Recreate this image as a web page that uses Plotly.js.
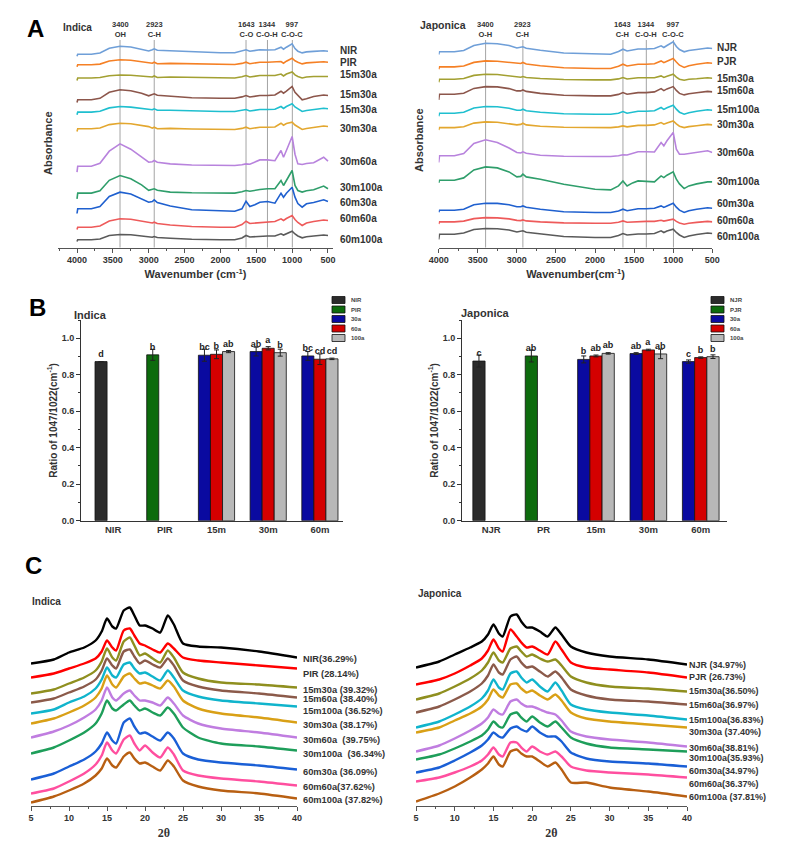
<!DOCTYPE html>
<html><head><meta charset="utf-8">
<script src="https://cdn.plot.ly/plotly-3.0.1.min.js"></script>
<style>html,body{margin:0;padding:0;background:#fff}</style>
</head><body><div id="chart" style="width:787px;height:849px"></div>
<script>
// ===================== DATA =====================
// ---- Panel A: FTIR spectra (relative absorbance profiles, arbitrary units) ----
const ftX = [4000,3990,3800,3680,3550,3400,3250,3100,3000,2950,2923,2880,2700,2400,2000,1800,1700,1643,1590,1520,1450,1344,1240,1155,1120,1080,1000,960,920,860,800,700,560,500];
const ftBands = [3400, 2923, 1643, 1344, 997];
const ftBandLabelsInd = ['3400<br>OH','2923<br>C-H','1643<br>C-O','1344<br>C-O-H','997<br>C-O-C'];
const ftBandLabelsJap = ['3400<br>O-H','2923<br>C-H','1643<br>C-H','1344<br>C-O-H','997<br>C-O-C'];
const ftNamesInd = ['NIR','PIR','15m30a','15m30a','15m30a','30m30a','30m60a','30m100a','60m30a','60m60a','60m100a'];
const ftNamesJap = ['NJR','PJR','15m30a','15m60a','15m100a','30m30a','30m60a','30m100a','60m30a','60m60a','60m100a'];

const ftInd_NIR   = [-5,-3,-3,-1.8,3,5,4.2,2.2,0.2,1.4,2.4,0.9,0.4,-1.1,-1.6,-1.6,-0.1,1.4,-0.1,0.4,1.4,1.2,1.4,4,2,4,7.4,2.6,0,-1.7,-0.7,-0.2,0.5,0];
const ftInd_PIR   = [-4.6,-2.6,-2.6,-1.9,1.2,2.4,1.9,0.7,-0.6,-1,0,-1.5,-1.2,-1.8,-2.3,-2.3,-1.2,0,-1.5,-1,0,0,0,0.7,-1,1,4,1.4,0,-1.7,-0.7,-0.2,0.5,0];
const ftInd_15a   = [-4,-1.5,-1.5,-1,0.8,1.5,1.2,0.5,-0.3,-0.5,0.5,-1,-0.5,-1,-1.5,-1.5,-0.3,1,-0.5,0,1,1,1,2.5,0.5,2.5,4.5,1.6,0,-1.5,-0.5,0,0.5,0];
const ftInd_15b   = [-7,-4.3,-4.3,-2.8,3.2,5.7,4.7,2.2,-0.3,0.7,1.7,0.2,-0.5,-2.2,-2.7,-2.7,-1.4,0,-1.5,-1,0,0,0.5,4.3,2.3,4.3,9,3.2,0,-4.3,-3.3,-1,0.5,0];
const ftInd_15c   = [-6,-3.3,-3.3,-2.5,0.9,2.3,1.7,0.3,-1.1,-1,0,-1.5,-1.4,-2.2,-2.7,-2.7,-1.7,-0.7,-2.2,-1.7,-0.7,-0.7,-0.5,2.3,0.3,2.3,5,1.8,0,-2.7,-1.7,-0.7,0.5,0];
const ftInd_30m30 = [-5,-2.3,-2.3,-1.5,1.9,3.3,2.7,1.3,-0.1,-1.7,-0.7,-2.2,-1.9,-2.5,-3,-3,-1.9,-0.7,-2.2,-1.7,-0.7,-0.7,-0.5,3.3,1.3,3,4.3,1.5,0,-3,-2,-1,0.5,0];
const ftInd_30m60 = [-11,-5,-5,-2,10,17.3,12,4,-1,-0.5,0.7,-1,-2.7,-3.8,-4.3,-4.3,-3.5,-2.7,-3,-1,1.3,1.3,0.5,10.7,4,10.7,24.7,7,-2.7,-3.3,-2.3,-1.5,4,0];
const ftInd_30m100= [-10,-4.3,-4.3,-2,8.5,13.3,10,4,-1.5,-1,0,-1.5,-3.3,-4,-4.3,-4.3,-3,-1.7,-2.5,-1.5,-0.7,0,0,8.3,3.3,8.3,18.3,3.3,-1.7,-3.3,-2,-1,2.7,0];
const ftInd_60m30 = [-12,-7.3,-7.3,-5,5,9.3,7.5,3,-0.7,0,1.7,-1,-4.5,-8.3,-9.7,-9.7,-7.3,0.3,-5,-3.3,-0.7,0,-1.7,8.3,4.3,8.3,14.3,4.3,-2,-5.7,-2.3,-1,1.7,0];
const ftInd_60m60 = [-9,-6.7,-6.7,-5.5,-0.5,1.7,1.2,-0.5,-2,-2.5,-1.7,-3,-4.5,-6,-6.7,-6.7,-4,-0.7,-3,-2.5,-2.7,-1.5,-1,1.7,0,2,5,1,-2,-5,-2.5,-1,0.5,0];
const ftInd_60m100= [-6,-4.3,-4.3,-3.5,0,1,0.8,-0.5,-1.5,-1.8,-1,-2,-2.8,-3.8,-4.3,-4.3,-2.5,0,-1.5,-1.2,-0.5,-0.5,-0.5,1.7,0.5,2,4.3,1.5,-0.5,-2.3,-1.2,-0.5,0.5,0];

const ftJap_NJR   = [-6,-3.3,-3.3,-2,3,5.3,4.8,3,0.5,0.8,1.7,0.3,-1.8,-4.5,-5.7,-5.7,-3,-0.7,-2.5,-1.5,-0.5,-0.5,0,2.7,1,3,6.7,2,-1,-3.3,-2,-1,0.5,0];
const ftJap_PJR   = [-6,-3.7,-3.7,-2.8,0.8,2.3,2,0.8,-0.5,-0.3,0.7,-0.8,-2.5,-4.5,-5.3,-5.3,-3,-1,-2.8,-2,-1,-1,-0.5,2.3,0.5,2,4.7,1.2,-2,-4.3,-2.5,-1,0.5,0];
const ftJap_15m30 = [-4,-1,-1,-0.3,2.8,4,3.7,2.5,1,1,1.7,0.7,-0.3,-1.3,-1.7,-1.7,-0.7,0.7,-0.8,-0.3,0.5,0.5,0.5,2.3,0.8,2,4,1,-1,-2,-1,-0.5,0.5,0];
const ftJap_15m60 = [-8,-2.3,-2.3,-1.3,3.5,5.3,5,3.3,1,1,2,0.5,-1.5,-3.3,-4,-4,-2.5,-0.7,-2.3,-1.5,-0.7,-0.7,0,3.3,1.3,3,5.3,1.5,-1.5,-3,-1.8,-0.8,0.5,0];
const ftJap_15m100= [-6,-3,-3,-2,2.2,3.7,3.4,2,0,0,1,-0.5,-2,-3.5,-4,-4,-3,-1.3,-3,-2,-1,-1,-0.5,2.7,0.8,2.5,5,1,-2,-4,-2.5,-1,0.5,0];
const ftJap_30m30 = [-5,-2.7,-2.7,-1.8,1.8,3,2.7,1.5,0,0.5,1.7,0,-1.3,-2.3,-2.7,-2.7,-2,-1,-2,-1.3,-0.5,-0.5,0,2.3,0.7,2,4,1,-1.3,-2.7,-1.7,-0.8,0.5,0];
const ftJap_30m60 = [-10,-3.3,-3.3,-1,9,12.7,10,4.5,0,-0.5,0.7,-0.8,-2.7,-3.7,-4,-4,-3.2,-2.3,-2.5,-1,0.7,0.7,0.5,10,6.7,11.7,20,3.3,-1.7,-1.7,-1,-0.5,1.7,0];
const ftJap_30m100= [-1,1.7,1.7,4,12,15,14,10,5,5.5,7.7,5,2.7,-2.3,-7.3,-8,-4,1,-4,-1,1,0.5,0,6,4.3,6.7,10,2.7,-2,-6.7,-4,-2,0,0];
const ftJap_60m30 = [-4,-2,-2,-1,3.5,5,4.8,3.5,1.5,1.5,2.3,1,-1,-3.5,-4.3,-4.3,-2.8,-1,-2.5,-1.5,-0.5,-0.5,0,2.3,0.8,2.2,5,1,-2,-4.3,-2.5,-1,0.5,0];
const ftJap_60m60 = [-2,0,0,0.8,3.3,4.3,4,3,1.5,1.3,2,1,0,-1,-1.3,-1.3,-0.3,1,-0.3,0,0.5,0.5,0.5,1.7,0.8,1.5,2.7,0.5,-1,-2.3,-1.3,-0.5,0.5,0];
const ftJap_60m100= [-6,-0.7,-0.7,0.5,4,5,4.8,3.5,1.5,1.8,2.7,1.3,-0.5,-3,-4,-4,-2,0,-1.5,-1,-0.5,-0.5,0,2.7,1,2.5,4.3,1,-1.5,-4,-2.5,-1,0.5,0];

// ---- Panel B: ratio 1047/1022 ----
const indCats = ['NIR','PIR','15m','30m','60m'];
const japCats = ['NJR','PR','15m','30m','60m'];
const indLegend = ['NIR','PIR','30a','60a','100a'];
const japLegend = ['NJR','PJR','30a','60a','100a'];
const indNIR = [0.872],  indNIRErr = [0],     indNIRSig = ['d'];
const indPIR = [0.909],  indPIRErr = [0.03],  indPIRSig = ['b'];
const ind30a = [0.907,0.927,0.903], ind30aErr = [0.033,0.024,0.024], ind30aSig = ['bc','ab','bc'];
const ind60a = [0.912,0.945,0.885], ind60aErr = [0.024,0.009,0.029], ind60aSig = ['b','a','cd'];
const ind100a= [0.927,0.921,0.887], ind100aErr= [0.006,0.019,0.004], ind100aSig= ['ab','b','cd'];
const japNJR = [0.875],  japNJRErr = [0.033], japNJRSig = ['c'];
const japPJR = [0.903],  japPJRErr = [0.033], japPJRSig = ['ab'];
const jap30a = [0.884,0.916,0.872], jap30aErr = [0.019,0.005,0.009], jap30aSig = ['b','ab','c'];
const jap60a = [0.903,0.936,0.894], jap60aErr = [0.005,0.004,0.004], jap60aSig = ['ab','a','b'];
const jap100a= [0.917,0.914,0.899], jap100aErr= [0.004,0.026,0.010], jap100aSig= ['ab','ab','b'];

// ---- Panel C: XRD patterns (relative intensity profiles) ----
const xrdX = [5,8,10,12,13.5,14.3,15,15.7,16.2,17.2,18,18.6,19.3,20,21,22,23,23.8,25,27,30,35,40];
const xrdNamesInd = ['NIR(36.29%)','PIR (28.14%)','15m30a (39.32%)','15m60a (38.40%)','15m100a (36.52%)','30m30a (38.17%)','30m60a  (39.75%)','30m100a  (36.34%)','60m30a (36.09%)','60m60a(37.62%)','60m100a (37.82%)'];
const xrdNamesJap = ['NJR (34.97%)','PJR (26.73%)','15m30a(36.50%)','15m60a(36.97%)','15m100a(36.83%)','30m30a (37.40%)','30m60a(38.81%)','30m100a(35.93%)','60m30a(34.97%)','60m60a(36.37%)','60m100a (37.81%)'];
const xrdInd_NIR    = [-6,-2,5,10,17,26,39,31,29,47,50,42,32,32,29,25,42,33,14,11,10,6,0];
const xrdInd_PIR    = [-9,-5,0,5,10,17,28,21,18,38,40,33,25,23,19,16,25,20,11,8,6,3,0];
const xrdInd_15m30  = [-6,-2,4,10,17,26,39,30,27,46,50,42,32,34,29,25,37,30,15,9,5,3,0];
const xrdInd_15m60  = [-5,-1,5,11,18,27,39,32,29,46,48,41,34,37,33,30,39,32,17,11,7,4,0];
const xrdInd_15m100 = [-7,-3,4,10,18,27,39,31,29,42,44,38,33,34,30,26,36,29,16,10,6,3,0];
const xrdInd_30m30  = [-1,4,10,17,25,34,47,38,35,46,49,44,39,40,37,34,42,36,22,14,9,5,0];
const xrdInd_30m60  = [0,6,12,20,28,37,50,40,37,44,47,42,37,37,35,32,40,34,22,14,9,5,0];
const xrdInd_30m100 = [-3,3,10,18,27,37,50,42,40,46,50,45,40,42,38,35,43,37,23,13,7,4,0];
const xrdInd_60m30  = [-10,-4,3,10,18,26,37,29,26,47,51,43,36,37,33,29,37,31,16,10,7,4,0];
const xrdInd_60m60  = [-8,-3,4,12,21,30,43,35,32,46,50,42,35,40,33,28,38,31,15,10,7,4,0];
const xrdInd_60m100 = [-4,2,8,15,23,30,40,33,31,42,46,40,35,36,32,28,38,32,18,12,8,5,0];
const xrdJap_NJR    = [-3,3,10,17,23,30,40,31,28,48,50,43,37,37,33,28,37,30,18,12,8,5,0];
const xrdJap_PJR    = [-7,-2,4,12,19,27,38,29,26,48,41,35,30,31,27,23,36,28,15,10,8,5,0];
const xrdJap_15m30  = [-8,-2,5,13,21,29,39,31,29,43,45,40,35,37,33,30,32,26,15,9,5,3,0];
const xrdJap_15m60  = [-8,-2,5,13,21,29,40,32,30,45,48,42,37,38,33,28,33,27,15,9,5,3,0];
const xrdJap_15m100 = [-8,-2,5,13,21,29,40,32,30,46,48,42,37,40,33,28,37,29,15,10,7,4,0];
const xrdJap_30m30  = [-5,0,7,14,21,28,38,32,30,43,44,39,35,37,32,28,33,27,15,9,6,3,0];
const xrdJap_30m60  = [-5,1,8,16,23,29,37,33,32,45,47,43,40,40,37,34,32,26,15,10,7,4,0];
const xrdJap_30m100 = [-8,-3,3,10,16,22,30,25,24,37,39,34,30,35,29,25,30,24,14,8,4,2,0];
const xrdJap_60m30  = [-6,-1,6,14,21,27,34,30,29,38,40,37,35,40,34,30,30,25,14,8,5,3,0];
const xrdJap_60m60  = [-4,0,5,11,17,23,30,23,21,35,35,30,26,31,26,23,26,21,11,7,5,3,0];
const xrdJap_60m100 = [-5,3,10,19,27,33,40,32,30,45,47,43,40,40,35,30,34,27,14,14,9,5,0];

// ===================== STYLE / LAYOUT =====================
const W = 787, H = 849;
const fx = p => p / W, fy = p => (H - p) / H;
const FONT = 'Liberation Sans, Arial, sans-serif';
const TXT = '#333';
const bold = (size, color) => ({family: FONT, size: size, color: color || TXT, weight: 'bold'});

const ftColors  = ['#6f9fd8','#f58025','#a3a032','#8c564b','#1fbfcf','#e3a72f','#b883dd','#2f9e6b','#1f60cf','#ee5a5a','#5a5a5a'];
const xrdColors = ['#000000','#ff0000','#8f8f1f','#8b5a4a','#10b4cc','#d9a016','#c07de0','#1e9e5a','#1a5fd6','#ff4f9f','#b85f12'];
const barColors = ['#2b2b2b','#0d6b0d','#0a0aa0','#d40000','#b8b8b8'];
// stacking offsets (display separation of the spectra)
const ftStackInd = [196.3,185.3,171,152,138.7,121,86.3,58.7,46,27,12];
const ftStackJap = [199,184.3,169.3,155.6,137.3,122.6,95,65.6,39.3,25.6,14];
const xrdStackInd = [148,137,118,108,99,83,68,55,36,20,7];
const xrdStackJap = [141,128,114,101,86,78,59,54,39,28,9];
// label vertical nudges in px (positive = up)
const ftNudgeInd  = [0.7,0,2,1,-0.7,-2,0,1.3,-1,2,-4];
const ftNudgeJap  = [1.3,2,0,1.7,1,0,0,0,5,1.7,-2.7];
const xrdNudgeInd = [-1,-5,-2,-1,-4,-2,-2,-3,-2,-1,-1];
const xrdNudgeJap = [0,1,1,0,0,-4,-1,-6,-4,-6,0];

const ftProfInd = [ftInd_NIR,ftInd_PIR,ftInd_15a,ftInd_15b,ftInd_15c,ftInd_30m30,ftInd_30m60,ftInd_30m100,ftInd_60m30,ftInd_60m60,ftInd_60m100];
const ftProfJap = [ftJap_NJR,ftJap_PJR,ftJap_15m30,ftJap_15m60,ftJap_15m100,ftJap_30m30,ftJap_30m60,ftJap_30m100,ftJap_60m30,ftJap_60m60,ftJap_60m100];
const xrdProfInd = [xrdInd_NIR,xrdInd_PIR,xrdInd_15m30,xrdInd_15m60,xrdInd_15m100,xrdInd_30m30,xrdInd_30m60,xrdInd_30m100,xrdInd_60m30,xrdInd_60m60,xrdInd_60m100];
const xrdProfJap = [xrdJap_NJR,xrdJap_PJR,xrdJap_15m30,xrdJap_15m60,xrdJap_15m100,xrdJap_30m30,xrdJap_30m60,xrdJap_30m100,xrdJap_60m30,xrdJap_60m60,xrdJap_60m100];

const traces = [];
const annotations = [];
const shapes = [];

function addStack(xs, profs, stack, colors, names, nudge, xa, ya, opts) {
  profs.forEach((p, i) => {
    traces.push({type:'scatter', mode:'lines', x: xs, y: p.map(v => v + stack[i]),
      xaxis: xa, yaxis: ya, showlegend:false, hoverinfo:'skip',
      line:{color: colors[i], width: opts.lw, shape: opts.shape || 'linear', smoothing: 0.6}});
    annotations.push({xref: xa, yref: ya, x: xs[xs.length-1], y: stack[i], xanchor:'left', yanchor:'middle',
      xshift: opts.xshift, yshift: nudge[i], text: names[i], showarrow:false, font: bold(opts.fs), borderpad:0});
  });
}
addStack(ftX, ftProfInd, ftStackInd, ftColors, ftNamesInd, ftNudgeInd, 'x', 'y', {lw:1.6, xshift:11, fs:10});
addStack(ftX, ftProfJap, ftStackJap, ftColors, ftNamesJap, ftNudgeJap, 'x2', 'y2', {lw:1.6, xshift:4, fs:10});
addStack(xrdX, xrdProfInd, xrdStackInd, xrdColors, xrdNamesInd, xrdNudgeInd, 'x5', 'y5', {lw:2.4, xshift:5, fs:9.3, shape:'spline'});
addStack(xrdX, xrdProfJap, xrdStackJap, xrdColors, xrdNamesJap, xrdNudgeJap, 'x6', 'y6', {lw:2.4, xshift:1, fs:9, shape:'spline'});

// band marker lines + labels
[['x','y',ftBandLabelsInd],['x2','y2',ftBandLabelsJap]].forEach(([xa, ya, labs]) => {
  ftBands.forEach((b, i) => {
    shapes.push({type:'line', xref: xa, yref: ya + ' domain', x0: b, x1: b, y0: 0, y1: 1, layer:'below',
      line:{color:'#a4a4a4', width:1}});
    annotations.push({xref: xa, yref: ya + ' domain', x: b, y: 1, xanchor:'center', yanchor:'bottom',
      text: labs[i], showarrow:false, font: bold(7.5), borderpad:0});
  });
});

// bars
function addBars(xa, ya, sets) {
  sets.forEach((s, k) => {
    traces.push({type:'bar', x: s.x, y: s.y, xaxis: xa, yaxis: ya, offsetgroup: s.g, showlegend:false,
      marker:{color: barColors[k], line:{color:'#111', width:0.8}},
      error_y:{type:'data', array: s.e, visible:true, color:'#222', thickness:1, width:2.5},
      text: s.t, textposition:'outside', constraintext:'none', cliponaxis:false,
      textfont: bold(9, '#222'), hoverinfo:'skip'});
  });
}
addBars('x3','y3', [
  {x:[indCats[0]], y:indNIR, e:indNIRErr, t:indNIRSig, g:'1'},
  {x:[indCats[1]], y:indPIR, e:indPIRErr, t:indPIRSig, g:'1'},
  {x:indCats.slice(2), y:ind30a, e:ind30aErr, t:ind30aSig, g:'1'},
  {x:indCats.slice(2), y:ind60a, e:ind60aErr, t:ind60aSig, g:'2'},
  {x:indCats.slice(2), y:ind100a, e:ind100aErr, t:ind100aSig, g:'3'}]);
addBars('x4','y4', [
  {x:[japCats[0]], y:japNJR, e:japNJRErr, t:japNJRSig, g:'1'},
  {x:[japCats[1]], y:japPJR, e:japPJRErr, t:japPJRSig, g:'1'},
  {x:japCats.slice(2), y:jap30a, e:jap30aErr, t:jap30aSig, g:'1'},
  {x:japCats.slice(2), y:jap60a, e:jap60aErr, t:jap60aSig, g:'2'},
  {x:japCats.slice(2), y:jap100a, e:jap100aErr, t:jap100aSig, g:'3'}]);

// compact legend boxes for panel B
function addLegend(names, swX, rows) {
  names.forEach((n, i) => {
    shapes.push({type:'rect', xref:'paper', yref:'paper', x0: fx(swX), x1: fx(swX + 13),
      y0: fy(rows[i] + 3.5), y1: fy(rows[i] - 3.5), fillcolor: barColors[i], line:{color:'#111', width:0.8}});
    annotations.push({xref:'paper', yref:'paper', x: fx(swX + 17), y: fy(rows[i]), xanchor:'left', yanchor:'middle',
      text: n, showarrow:false, font: bold(6, '#444')});
  });
}
const legendRows = [300, 309.5, 319, 328.5, 338];
addLegend(indLegend, 332, legendRows);
addLegend(japLegend, 711, legendRows);

// titles / panel letters
function txt(t, x, y, size, color, extra) {
  annotations.push(Object.assign({xref:'paper', yref:'paper', x: fx(x), y: fy(y), xanchor:'center', yanchor:'middle',
    text: t, showarrow:false, font: bold(size, color)}, extra || {}));
}
txt('A', 35, 28, 24, '#000');
txt('B', 37, 307, 24, '#000');
txt('C', 33, 565, 24, '#000');
txt('Indica', 77, 27, 10);
txt('Japonica', 443, 25, 10.5);
txt('Indica', 90, 315, 11);
txt('Japonica', 485, 313, 11);
txt('Indica', 46, 602, 10);
txt('Japonica', 440, 593, 10);
txt('Absorbance', 48, 143, 11, TXT, {textangle:-90});
txt('Absorbance', 419, 140, 11, TXT, {textangle:-90});

const ftDomY = [fy(247.5), fy(40)];
const barDomY = [fy(520.7), fy(320)];
const xrdDomY = [fy(805.5), fy(590)];
const lineCol = '#555';
function ftXaxis(dom, rng, title) {
  return {domain: dom, range: rng, showline:true, linecolor:lineCol, linewidth:1,
    ticks:'outside', ticklen:4, tickcolor:lineCol, tick0:0, dtick:500,
    minor:{ticks:'outside', ticklen:2, dtick:250, tick0:0, tickcolor:lineCol},
    tickfont: bold(9), showgrid:false, zeroline:false,
    title:{text: title, font: bold(11), standoff: 6}};
}
function hiddenY(dom, rng) {
  return {domain: dom, range: rng, visible:false, fixedrange:true};
}
function barY(dom) {
  return {domain: dom, range:[0,1.1], tick0:0, dtick:0.2, tickformat:'.1f', showline:true, linecolor:'#333', linewidth:1,
    ticks:'outside', ticklen:4, tickcolor:'#333', minor:{ticks:'outside', ticklen:2, dtick:0.1, tickcolor:'#333'},
    tickfont: bold(9), showgrid:false, zeroline:false,
    title:{text:'Ratio of 1047/1022(cm<sup>-1</sup>)', font: bold(10), standoff: 2}};
}
function barX(dom, rng, cats) {
  return {domain: dom, range: rng, type:'category', categoryorder:'array', categoryarray: cats,
    showline:true, linecolor:'#333', linewidth:1, ticks:'', tickfont: bold(9.5), showgrid:false, zeroline:false};
}
function xrdXaxis(dom) {
  return {domain: dom, range:[5,40], tick0:0, dtick:5, showline:true, linecolor:lineCol, linewidth:1,
    ticks:'outside', ticklen:4, tickcolor:lineCol, minor:{ticks:'outside', ticklen:2, dtick:2.5, tick0:0, tickcolor:lineCol},
    tickfont: bold(9), showgrid:false, zeroline:false,
    title:{text:'2θ', font:{family:'Liberation Serif, serif', size:12, color:TXT, weight:'bold'}, standoff: 6}};
}

const layout = {
  width: W, height: H, margin:{l:0, r:0, t:0, b:0}, paper_bgcolor:'#fff', plot_bgcolor:'rgba(0,0,0,0)',
  showlegend:false, barmode:'group', bargap:0.3, bargroupgap:0,
  font:{family: FONT, color: TXT},
  xaxis:  Object.assign(ftXaxis([fx(58), fx(333)], [4265, 430], 'Wavenumber (cm<sup>-1</sup>)'), {anchor:'y'}),
  yaxis:  Object.assign(hiddenY(ftDomY, [0, 207.5]), {anchor:'x'}),
  xaxis2: Object.assign(ftXaxis([fx(438.7), fx(712.3)], [4000, 500], 'Wavenumber(cm<sup>-1</sup>)'), {anchor:'y2'}),
  yaxis2: Object.assign(hiddenY(ftDomY, [0, 207.5]), {anchor:'x2'}),
  xaxis3: Object.assign(barX([fx(81), fx(343)], [-0.621, 4.447], indCats), {anchor:'y3'}),
  yaxis3: Object.assign(barY(barDomY), {anchor:'x3'}),
  xaxis4: Object.assign(barX([fx(462), fx(727)], [-0.557, 4.501], japCats), {anchor:'y4'}),
  yaxis4: Object.assign(barY(barDomY), {anchor:'x4'}),
  xaxis5: Object.assign(xrdXaxis([fx(31), fx(297)]), {anchor:'y5'}),
  yaxis5: Object.assign(hiddenY(xrdDomY, [0, 215.5]), {anchor:'x5'}),
  xaxis6: Object.assign(xrdXaxis([fx(416), fx(687)]), {anchor:'y6'}),
  yaxis6: Object.assign(hiddenY(xrdDomY, [0, 215.5]), {anchor:'x6'}),
  annotations: annotations,
  shapes: shapes
};

Plotly.newPlot('chart', traces, layout, {staticPlot:true, displayModeBar:false});
</script>
</body></html>
